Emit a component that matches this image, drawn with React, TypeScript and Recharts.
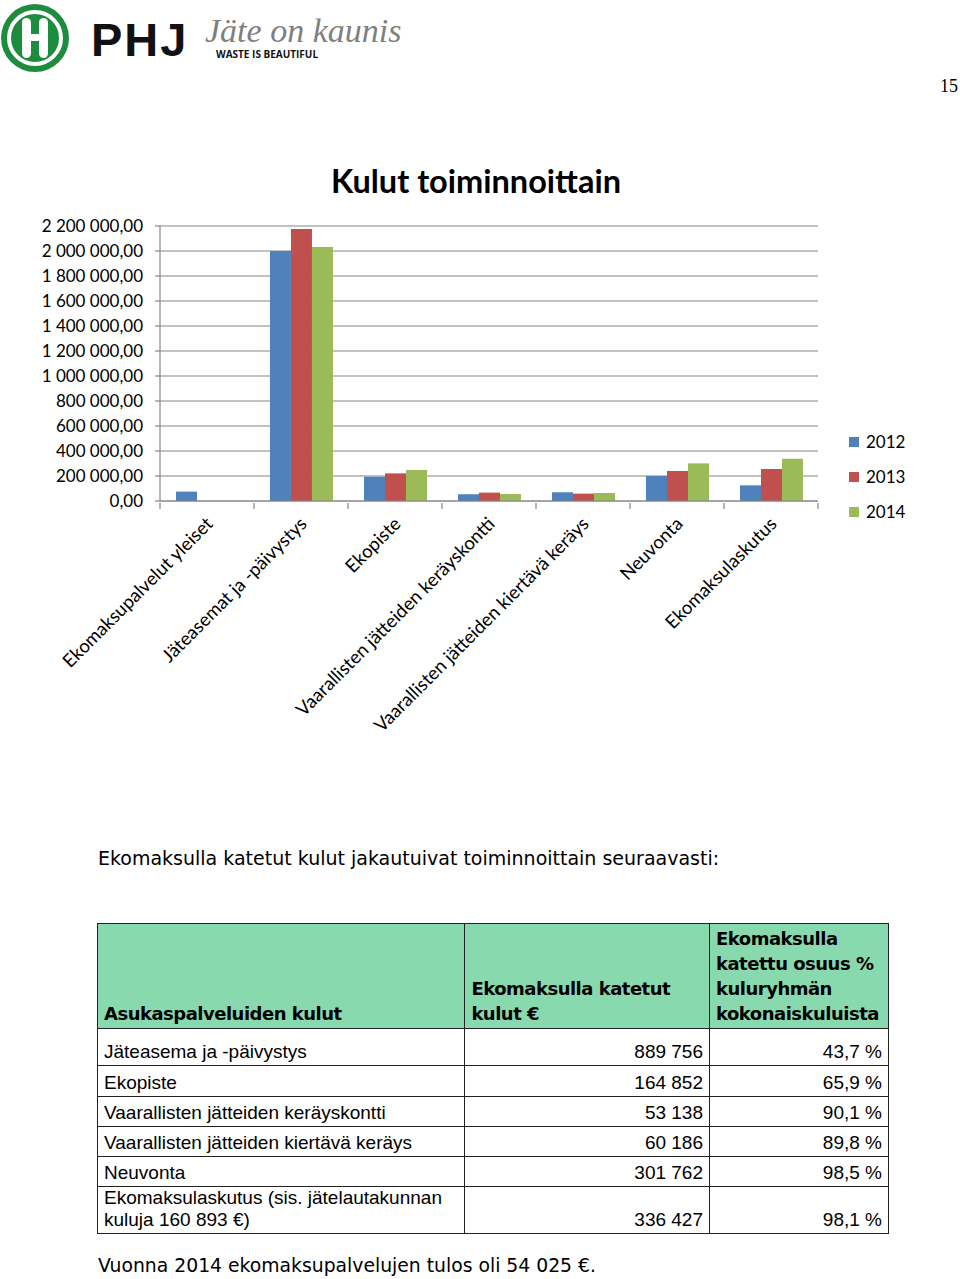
import { BarChart, Bar, XAxis, YAxis, CartesianGrid, Legend } from "recharts"

const categories = [
  "Ekomaksupalvelut yleiset",
  "Jäteasemat ja -päivystys",
  "Ekopiste",
  "Vaarallisten jätteiden keräyskontti",
  "Vaarallisten jätteiden kiertävä keräys",
  "Neuvonta",
  "Ekomaksulaskutus",
]
const years = ["2012", "2013", "2014"]
const values2012 = [75000, 2000000, 194000, 54000, 70000, 200000, 125000]
const values2013 = [0, 2176000, 221000, 67000, 59000, 240000, 256000]
const values2014 = [0, 2032000, 248000, 56000, 64000, 301000, 339000]
const yTicks = [0, 200000, 400000, 600000, 800000, 1000000, 1200000, 1400000, 1600000, 1800000, 2000000, 2200000]

const COLORS = ["#4F81BD", "#C0504D", "#9BBB59"]

const tableHeaders = [
  "Asukaspalveluiden kulut",
  "Ekomaksulla katetut\nkulut €",
  "Ekomaksulla\nkatettu osuus %\nkuluryhmän\nkokonaiskuluista",
]
const tableRows = [
  "Jäteasema ja -päivystys",
  "Ekopiste",
  "Vaarallisten jätteiden keräyskontti",
  "Vaarallisten jätteiden kiertävä keräys",
  "Neuvonta",
  "Ekomaksulaskutus (sis. jätelautakunnan\nkuluja 160 893 €)",
]
const tableCosts = ["889 756", "164 852", "53 138", "60 186", "301 762", "336 427"]
const tableShares = ["43,7 %", "65,9 %", "90,1 %", "89,8 %", "98,5 %", "98,1 %"]

const data = categories.map((name, i) => ({
  name,
  "2012": values2012[i],
  "2013": values2013[i],
  "2014": values2014[i],
}))

const CHART_W = 960
const CHART_H = 620
const M = { top: 76, right: 142, bottom: 19, left: 40 }
const PLOT_W = CHART_W - M.left - M.right - 120
const BAND = PLOT_W / categories.length
const GRID = "#868686"
const CHART_FONT = "Lato, 'Open Sans', sans-serif"

function formatFi(v: number) {
  const int = Math.floor(v).toString().replace(/\B(?=(\d{3})+(?!\d))/g, " ")
  return int + ",00"
}

function CategoryTick(props: any) {
  const { x, y, payload, index } = props
  const left = x - BAND / 2
  const right = x + BAND / 2
  return (
    <g>
      <line x1={left} x2={left} y1={y} y2={y + 6} stroke={GRID} strokeWidth={1.2} />
      {index === categories.length - 1 && (
        <line x1={right} x2={right} y1={y} y2={y + 6} stroke={GRID} strokeWidth={1.2} />
      )}
      <text
        transform={`translate(${x + 7},${y + 22}) rotate(-45)`}
        textAnchor="end"
        fontSize={18.5}
        fontFamily={CHART_FONT}
        fill="#000"
      >
        {payload.value}
      </text>
    </g>
  )
}

function YearLegend(props: any) {
  const { payload } = props
  return (
    <div style={{ fontFamily: CHART_FONT, fontSize: 17 }}>
      {(payload || []).map((p: any) => (
        <div key={p.value} style={{ height: 35, display: "flex", alignItems: "center" }}>
          <span style={{ width: 10, height: 10, background: p.color, marginRight: 7, display: "inline-block" }} />
          <span>{p.value}</span>
        </div>
      ))}
    </div>
  )
}

function Logo() {
  return (
    <svg width={420} height={80} style={{ position: "absolute", left: 0, top: 0 }}>
      <circle cx={35} cy={38} r={34} fill="#1E8C3E" />
      <circle cx={35} cy={38} r={26} fill="none" stroke="#fff" strokeWidth={4} />
      <rect x={22} y={18} width={9} height={40} rx={4.5} fill="#fff" />
      <rect x={39} y={18} width={9} height={40} rx={4.5} fill="#fff" />
      <rect x={25} y={34} width={20} height={7} fill="#fff" />
      <text x={91} y={56} fontFamily="'Liberation Sans', Arial, sans-serif" fontWeight="bold" fontSize={47} letterSpacing={2} fill="#111">
        PHJ
      </text>
      <text x={205} y={42} fontFamily="'Liberation Serif', serif" fontStyle="italic" fontSize={34} fill="#808080">
        Jäte on kaunis
      </text>
      <text x={216} y={58} fontFamily="'Open Sans', sans-serif" fontWeight="bold" fontSize={10} fill="#111">
        WASTE IS BEAUTIFUL
      </text>
    </svg>
  )
}

const cellBase: React.CSSProperties = {
  border: "1px solid #222",
  padding: "0 6px 2px 6px",
  verticalAlign: "bottom",
}

export default function App() {
  const rowHeights = [37, 31, 30, 30, 30, 45]
  return (
    <div style={{ position: "absolute", left: 0, top: 0, width: 960, height: 1279, background: "#fff", overflow: "hidden" }}>
      <Logo />
      <div style={{ position: "absolute", left: 940, top: 76, fontFamily: "'Liberation Serif', serif", fontSize: 18 }}>15</div>

      <div
        style={{
          position: "absolute",
          left: 0,
          width: 952,
          top: 161,
          textAlign: "center",
          fontFamily: CHART_FONT,
          fontWeight: 700,
          fontSize: 32.5,
        }}
      >
        Kulut toiminnoittain
      </div>

      <div style={{ position: "absolute", left: 0, top: 150 }}>
        <BarChart width={CHART_W} height={CHART_H} data={data} margin={M} barCategoryGap="17%" barGap={0}>
          <CartesianGrid vertical={false} stroke={GRID} strokeWidth={1.2} />
          <XAxis
            dataKey="name"
            interval={0}
            height={250}
            tickSize={0}
            tickLine={false}
            axisLine={{ stroke: GRID, strokeWidth: 1.2 }}
            tick={<CategoryTick />}
          />
          <YAxis
            width={120}
            domain={[0, 2200000]}
            ticks={yTicks}
            interval={0}
            tickFormatter={formatFi}
            tickSize={5}
            tickMargin={12}
            axisLine={{ stroke: GRID, strokeWidth: 1.2 }}
            tickLine={{ stroke: GRID, strokeWidth: 1.2 }}
            tick={{ fontSize: 17, fontFamily: CHART_FONT, fill: "#000" }}
          />
          <Legend
            layout="vertical"
            align="center"
            verticalAlign="middle"
            wrapperStyle={{ left: 849, top: 274, width: 90 }}
            content={<YearLegend />}
          />
          {years.map((yr, i) => (
            <Bar key={yr} dataKey={yr} fill={COLORS[i]} isAnimationActive={false} />
          ))}
        </BarChart>
      </div>

      <div
        style={{
          position: "absolute",
          left: 98,
          top: 847,
          fontFamily: "'DejaVu Sans', sans-serif",
          fontSize: 19,
          whiteSpace: "nowrap",
        }}
      >
        Ekomaksulla katetut kulut jakautuivat toiminnoittain seuraavasti:
      </div>

      <table
        style={{
          position: "absolute",
          left: 97,
          top: 923,
          width: 792,
          borderCollapse: "collapse",
          fontFamily: "'Liberation Sans', Arial, sans-serif",
          fontSize: 19,
        }}
      >
        <colgroup>
          <col style={{ width: 368 }} />
          <col style={{ width: 245 }} />
          <col style={{ width: 179 }} />
        </colgroup>
        <thead>
          <tr style={{ height: 105, background: "#89D9AF" }}>
            {tableHeaders.map((h) => (
              <th
                key={h}
                style={{
                  ...cellBase,
                  textAlign: "left",
                  whiteSpace: "pre-line",
                  fontFamily: "'DejaVu Sans', sans-serif",
                  fontWeight: "bold",
                  fontSize: 18,
                  lineHeight: "25px",
                  letterSpacing: -0.5,
                }}
              >
                {h}
              </th>
            ))}
          </tr>
        </thead>
        <tbody>
          {tableRows.map((r, i) => (
            <tr key={r} style={{ height: rowHeights[i] }}>
              <td style={{ ...cellBase, whiteSpace: "pre-line", lineHeight: "22px" }}>{r}</td>
              <td style={{ ...cellBase, textAlign: "right" }}>{tableCosts[i]}</td>
              <td style={{ ...cellBase, textAlign: "right" }}>{tableShares[i]}</td>
            </tr>
          ))}
        </tbody>
      </table>

      <div
        style={{
          position: "absolute",
          left: 98,
          top: 1255,
          fontFamily: "'DejaVu Sans', sans-serif",
          fontSize: 18.8,
          whiteSpace: "nowrap",
        }}
      >
        Vuonna 2014 ekomaksupalvelujen tulos oli 54 025 €.
      </div>
    </div>
  )
}
